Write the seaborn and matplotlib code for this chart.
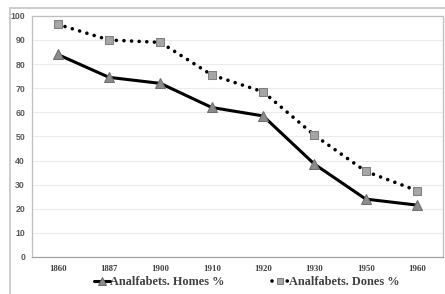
import matplotlib
matplotlib.use("Agg")
import matplotlib.pyplot as plt
import seaborn as sns
import pandas as pd
from matplotlib.patches import Rectangle

years = ["1860", "1887", "1900", "1910", "1920", "1930", "1950", "1960"]
homes = [84, 74.5, 72, 62, 58.5, 38.5, 24, 21.5]
dones = [96.5, 90, 89, 75.5, 68.5, 50.5, 35.5, 27.5]
yticks = list(range(0, 101, 10))

df = pd.DataFrame({"Any": years, "Homes": homes, "Dones": dones})

sns.set_style("white")
fig = plt.figure(figsize=(4.45, 2.94), dpi=100)
ax = fig.add_axes([0.072, 0.126, 0.923, 0.82])

# outer chart border (cropped on the right and bottom)
fig.patches.append(Rectangle((10 / 445, -0.1), 1.2, 1 - 8 / 294 + 0.1,
                             transform=fig.transFigure, fill=False,
                             edgecolor="#c8c8c8", linewidth=1.3))

sns.lineplot(data=df, x="Any", y="Homes", ax=ax, sort=False, color="black",
             linewidth=2.2, marker="^", markersize=7,
             markerfacecolor="#8c8c8c", markeredgecolor="#6e6e6e",
             label="Analfabets. Homes %")
sns.lineplot(data=df, x="Any", y="Dones", ax=ax, sort=False, color="black",
             linewidth=2.6, linestyle=(0, (0.01, 2.1)),
             marker="s", markersize=5.5,
             markerfacecolor="#a6a6a6", markeredgecolor="#7f7f7f",
             label="Analfabets. Dones %")
for line in ax.get_lines():
    line.set_dash_capstyle("round")

ax.set_xlim(-0.5, len(years) - 0.5)
ax.set_ylim(0, 100)
ax.set_yticks(yticks)
ax.set_xlabel("")
ax.set_ylabel("")
ax.grid(axis="y", color="#ececec", linewidth=0.8)
ax.set_axisbelow(True)
for s in ax.spines.values():
    s.set_color("#bfbfbf")
    s.set_linewidth(0.9)
ax.spines["bottom"].set_color("#a0a0a0")
ax.tick_params(axis="y", length=0, pad=5)
ax.tick_params(axis="x", length=0, pad=6)
for t in ax.get_yticklabels():
    t.set_fontfamily("Liberation Sans")
    t.set_fontweight("bold")
    t.set_fontsize(6.3)
    t.set_color("#595959")
for t in ax.get_xticklabels():
    t.set_fontfamily("Liberation Serif")
    t.set_fontweight("bold")
    t.set_fontsize(6.3)
    t.set_color("#404040")

leg = ax.legend(loc="center", bbox_to_anchor=(0.522, -0.105), ncol=2,
                frameon=False, handlelength=1.3, handletextpad=0.05,
                columnspacing=3.9, borderpad=0, markerscale=0.85,
                prop={"family": "Liberation Serif", "weight": "bold", "size": 8.8})
for t in leg.get_texts():
    t.set_color("#404040")

fig.savefig("out.png", dpi=100)
